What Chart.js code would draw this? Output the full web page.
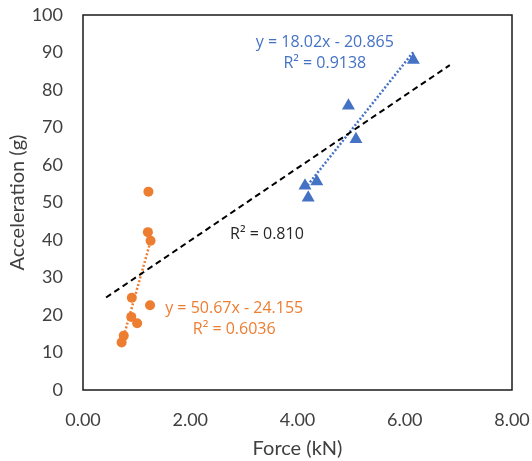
<!DOCTYPE html>
<html><head><meta charset="utf-8">
<script src="https://cdn.jsdelivr.net/npm/chart.js@4/dist/chart.umd.min.js"></script>
<style>html,body{margin:0;padding:0;background:#fff}</style>
</head><body>
<canvas id="c" width="532" height="461" style="display:block;width:532px;height:461px"></canvas>
<script>
// ---- data ----
const forceA = [1.22, 1.21, 1.26, 0.91, 1.25, 0.90, 1.01, 0.76, 0.72];
const accelA = [52.9, 42.1, 39.8, 24.6, 22.6, 19.5, 17.8, 14.5, 12.7];
const forceB = [6.16, 4.95, 5.09, 4.14, 4.36, 4.20];
const accelB = [88.0, 75.8, 66.9, 54.5, 55.6, 51.3];
const fitA = [50.67, -24.155];      // slope, intercept
const fitB = [18.02, -20.865];
const fitAll = [9.67, 20.5];
const fitAllRange = [0.43, 6.84];
const xTickValues = [0, 2, 4, 6, 8];
const yTickValues = [0, 10, 20, 30, 40, 50, 60, 70, 80, 90, 100];
const labelA = ['y = 50.67x - 24.155', 'R\u00B2 = 0.6036'];
const labelB = ['y = 18.02x - 20.865', 'R\u00B2 = 0.9138'];
const labelAll = ['R\u00B2 = 0.810'];
const xTitle = 'Force (kN)';
const yTitle = 'Acceleration (g)';

// ---- styling ----
const ORANGE = '#ED7D31';
const BLUE = '#4472C4';
const TEXT = '#404040';
const FONT = "Lato, 'Open Sans', sans-serif";
const LABEL_FONT = "'Open Sans', sans-serif";

const pts = (xs, ys) => xs.map((x, i) => ({x, y: ys[i]}));
const lineOver = (fit, x0, x1) => [x0, x1].map(x => ({x, y: fit[0] * x + fit[1]}));

const annotations = [
  {lines: labelA, color: ORANGE, x: 2.82, y: 18.9},
  {lines: labelB, color: BLUE, x: 4.51, y: 89.9},
  {lines: labelAll, color: '#262626', x: 3.43, y: 41.6}
];

const framePlugin = {
  id: 'frame',
  beforeDatasetsDraw(chart) {
    const {ctx, chartArea: a} = chart;
    ctx.save();
    ctx.strokeStyle = '#1a1a1a';
    ctx.lineWidth = 1.5;
    ctx.strokeRect(a.left, a.top, a.right - a.left, a.bottom - a.top);
    ctx.restore();
  }
};
const labelPlugin = {
  id: 'labels',
  afterDatasetsDraw(chart) {
    const {ctx, scales} = chart;
    ctx.save();
    ctx.font = '16px ' + LABEL_FONT;
    ctx.textAlign = 'center';
    ctx.textBaseline = 'middle';
    annotations.forEach(an => {
      const cx = scales.x.getPixelForValue(an.x);
      const cy = scales.y.getPixelForValue(an.y);
      const lh = 21;
      const y0 = cy - (an.lines.length - 1) * lh / 2;
      ctx.fillStyle = an.color;
      an.lines.forEach((t, i) => ctx.fillText(t, cx, y0 + i * lh));
    });
    ctx.restore();
  }
};

new Chart(document.getElementById('c'), {
  type: 'scatter',
  data: {
    datasets: [
      {label: 'fitAll', data: lineOver(fitAll, fitAllRange[0], fitAllRange[1]), showLine: true,
       borderColor: '#000', borderWidth: 2, borderDash: [6, 4], pointRadius: 0, order: 0},
      {label: 'fitA', data: lineOver(fitA, Math.min(...forceA), Math.max(...forceA)), showLine: true,
       borderColor: ORANGE, borderWidth: 2.5, borderDash: [2, 2], pointRadius: 0, order: 0},
      {label: 'fitB', data: lineOver(fitB, Math.min(...forceB), Math.max(...forceB)), showLine: true,
       borderColor: BLUE, borderWidth: 2.5, borderDash: [2, 2], pointRadius: 0, order: 0},
      {label: 'A', data: pts(forceA, accelA), pointStyle: 'circle', pointRadius: 5,
       backgroundColor: ORANGE, borderColor: ORANGE, borderWidth: 0, order: 1},
      {label: 'B', data: pts(forceB, accelB), pointStyle: 'triangle', pointRadius: 7.5,
       backgroundColor: BLUE, borderColor: BLUE, borderWidth: 0, order: 1}
    ]
  },
  options: {
    responsive: false,
    animation: false,
    devicePixelRatio: 1,
    layout: {padding: {left: 0, right: 20, top: 15, bottom: 0}},
    plugins: {legend: {display: false}, tooltip: {enabled: false}},
    scales: {
      x: {
        type: 'linear', min: 0, max: 8,
        afterBuildTicks: s => { s.ticks = xTickValues.map(v => ({value: v})); },
        afterFit: s => { s.height = 71; s.paddingLeft = 0; s.paddingRight = 0; },
        grid: {display: false, drawTicks: false},
        border: {display: false},
        ticks: {color: TEXT, font: {family: FONT, size: 18}, padding: 19,
                callback: v => Number(v).toFixed(2), maxRotation: 0},
        title: {display: true, text: xTitle, color: TEXT, font: {family: FONT, size: 20},
                padding: {top: 0, bottom: 0}}
      },
      y: {
        type: 'linear', min: 0, max: 100,
        afterBuildTicks: s => { s.ticks = yTickValues.map(v => ({value: v})); },
        afterFit: s => { s.width = 83; s.paddingTop = 0; s.paddingBottom = 0; },
        grid: {display: false, drawTicks: false},
        border: {display: false},
        ticks: {color: TEXT, font: {family: FONT, size: 18}, padding: 20},
        title: {display: true, text: yTitle, color: TEXT, font: {family: FONT, size: 20},
                padding: {top: 6, bottom: 6}}
      }
    }
  },
  plugins: [framePlugin, labelPlugin]
});
</script>
</body></html>
